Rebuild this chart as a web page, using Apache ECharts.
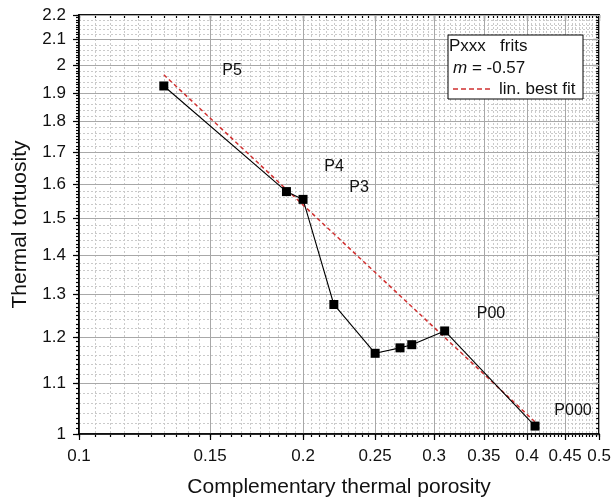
<!DOCTYPE html>
<html><head><meta charset="utf-8">
<script src="https://cdn.jsdelivr.net/npm/echarts@6/dist/echarts.min.js"></script>
<style>html,body{margin:0;padding:0;background:#fff}#c{width:614px;height:503px}</style>
</head><body><div id="c"></div>
<script>
// ---- data ----
const porosity   = [0.13, 0.19, 0.2, 0.22, 0.25, 0.27, 0.28, 0.31, 0.41];
const tortuosity = [1.925, 1.578, 1.555, 1.276, 1.164, 1.176, 1.183, 1.214, 1.015];
const fitX = [0.13, 0.41];
const fitY = [1.966, 1.023];
const xTickLabels = [0.1, 0.15, 0.2, 0.25, 0.3, 0.35, 0.4, 0.45, 0.5];
const yTickLabels = [1, 1.1, 1.2, 1.3, 1.4, 1.5, 1.6, 1.7, 1.8, 1.9, 2, 2.1, 2.2];
const pointNames = ['P5', 'P4', 'P3', 'P00', 'P000'];
const legendLines = ['Pxxx   frits', 'm = -0.57', 'lin. best fit'];

function steps(a, b, s) { const r = []; for (let v = a; v <= b + 1e-9; v += s) r.push(+v.toFixed(4)); return r; }
const xMinor = steps(0.1, 0.5, 0.005);
const yMinorTicks = steps(1, 2.2, 0.01);
const yMinorGrid = steps(1, 2.2, 0.02);

const FONT = 'Liberation Sans, Arial, sans-serif';
const fmt = v => String(+(+v).toFixed(3));

function axis(dim, pos, ticks, len, inside, labels, split, splitStyle) {
  return {
    type: 'log', logBase: 10, position: pos,
    min: dim === 'x' ? 0.1 : 1, max: dim === 'x' ? 0.5 : 2.2,
    axisLine: { show: true, onZero: false, lineStyle: { color: '#000', width: 1.5 } },
    axisTick: { show: true, customValues: ticks, length: len, inside: inside, lineStyle: { color: '#000', width: 1.2 } },
    axisLabel: labels ? { show: true, customValues: ticks, formatter: fmt, color: '#111', fontSize: 17, fontFamily: FONT, margin: dim === 'x' ? 14 : 13 } : { show: false },
    splitLine: split ? { show: true, lineStyle: splitStyle } : { show: false },
    minorTick: { show: false }, minorSplitLine: { show: false },
    silent: true
  };
}
const minorGridStyle = { color: '#cacaca', width: 1, type: [2, 2] };
const majorGridStyle = { color: '#a8a8a8', width: 1, type: 'solid' };

const xAxes = [
  axis('x', 'bottom', xTickLabels, 6, false, true, true, majorGridStyle),
  axis('x', 'bottom', xMinor, 3, false, false, true, minorGridStyle),
  axis('x', 'top', xTickLabels, 6, true, false, false),
  axis('x', 'top', xMinor, 3, true, false, false)
];
xAxes[0].name = 'Complementary thermal porosity';
xAxes[0].nameLocation = 'middle';
xAxes[0].nameGap = 43;
xAxes[0].nameTextStyle = { fontSize: 21, fontFamily: FONT, color: '#111' };

const yAxes = [
  axis('y', 'left', yTickLabels, 6, false, true, true, majorGridStyle),
  axis('y', 'left', yMinorTicks, 3, false, false, false),
  axis('y', 'left', yMinorGrid, 0, false, false, true, minorGridStyle),
  axis('y', 'right', yTickLabels, 6, true, false, false),
  axis('y', 'right', yMinorTicks, 3, true, false, false)
];
yAxes[0].name = 'Thermal tortuosity';
yAxes[0].nameLocation = 'middle';
yAxes[0].nameGap = 48;
yAxes[0].nameTextStyle = { fontSize: 21, fontFamily: FONT, color: '#111' };

xAxes.forEach((a, i) => a.z = i === 0 ? 2 : 1);
yAxes.forEach((a, i) => a.z = i === 0 ? 2 : 1);

const chart = echarts.init(document.getElementById('c'), null, { renderer: 'canvas' });
const labelPos = [[232, 71], [334, 167], [359, 188], [491, 314], [573, 411]];
const textStyle = { fontSize: 16, fontFamily: FONT, fill: '#111' };
const legStyle = { fontSize: 17, fontFamily: FONT, fill: '#111' };

chart.setOption({
  animation: false,
  backgroundColor: '#fff',
  grid: { left: 79, right: 12, top: 15, bottom: 68, containLabel: false },
  xAxis: xAxes,
  yAxis: yAxes,
  series: [
    {
      type: 'line', xAxisIndex: 0, yAxisIndex: 0, z: 5,
      data: fitX.map((x, i) => [x, fitY[i]]),
      symbol: 'none',
      lineStyle: { color: '#d03030', width: 1.5, type: [4, 3] }
    },
    {
      type: 'line', xAxisIndex: 0, yAxisIndex: 0, z: 6,
      data: porosity.map((x, i) => [x, tortuosity[i]]),
      symbol: 'rect', symbolSize: 9,
      itemStyle: { color: '#000' },
      lineStyle: { color: '#000', width: 1.1 }
    }
  ],
  graphic: [
    ...pointNames.map((n, i) => ({
      type: 'text', x: labelPos[i][0], y: labelPos[i][1], z: 100,
      style: Object.assign({ text: n, align: 'center', verticalAlign: 'middle' }, textStyle)
    })),
    { type: 'rect', z: 100, shape: { x: 448, y: 35, width: 135, height: 64 },
      style: { fill: '#fff', stroke: '#000', lineWidth: 1 } },
    { type: 'text', z: 101, x: 449, y: 46,
      style: Object.assign({ text: legendLines[0], verticalAlign: 'middle' }, legStyle) },
    { type: 'text', z: 101, x: 453, y: 68,
      style: { text: '{i|m}{n| = -0.57}', verticalAlign: 'middle',
        rich: { i: { fontStyle: 'italic', fontSize: 17, fontFamily: FONT, fill: '#111' },
                n: { fontSize: 17, fontFamily: FONT, fill: '#111' } } } },
    { type: 'line', z: 101, shape: { x1: 453, y1: 89, x2: 490, y2: 89 },
      style: { stroke: '#d03030', lineWidth: 1.5, lineDash: [5, 3] } },
    { type: 'text', z: 101, x: 499, y: 89,
      style: Object.assign({ text: legendLines[2], verticalAlign: 'middle' }, legStyle) }
  ]
});
</script></body></html>
